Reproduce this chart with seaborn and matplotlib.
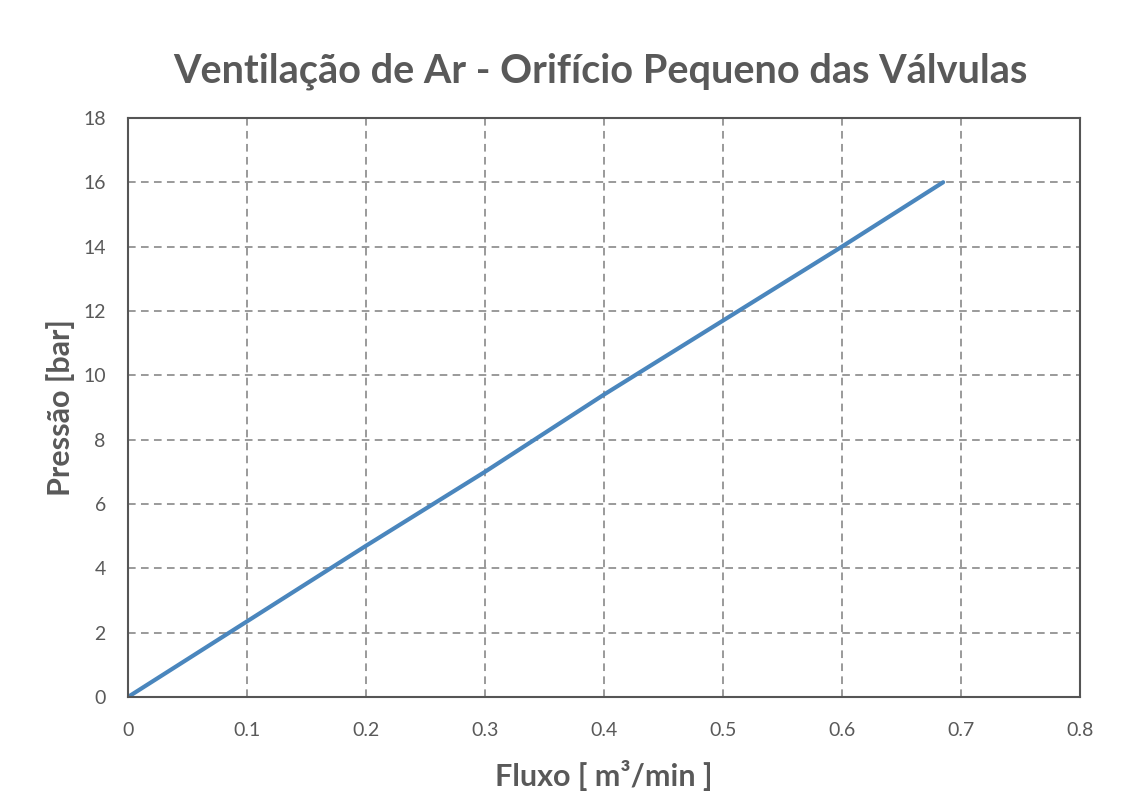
import pandas as pd
import matplotlib.pyplot as plt
import seaborn as sns

# values
fluxo = [0.0, 0.1, 0.2, 0.3, 0.4, 0.5, 0.6, 0.685]
pressao = [0.0, 2.35, 4.7, 7.0, 9.4, 11.7, 14.0, 16.0]
x_ticks = [0, 0.1, 0.2, 0.3, 0.4, 0.5, 0.6, 0.7, 0.8]
x_tick_labels = ['0', '0.1', '0.2', '0.3', '0.4', '0.5', '0.6', '0.7', '0.8']
y_ticks = [0, 2, 4, 6, 8, 10, 12, 14, 16, 18]

df = pd.DataFrame({'fluxo': fluxo, 'pressao': pressao})

sns.set_style('white')
plt.rcParams['font.family'] = ['Lato', 'DejaVu Sans']

text_color = '#595959'
fig = plt.figure(figsize=(11.23, 8.11), dpi=100)
ax = fig.add_axes([0.114, 0.1406, 0.8477, 0.714])

sns.lineplot(data=df, x='fluxo', y='pressao', ax=ax, color='#4a86bd', linewidth=3)

ax.set_xlim(0, 0.8)
ax.set_ylim(0, 18)
ax.set_xticks(x_ticks)
ax.set_xticklabels(x_tick_labels)
ax.set_yticks(y_ticks)
ax.tick_params(axis='both', labelsize=14, labelcolor=text_color, length=0)
ax.tick_params(axis='x', pad=18)
ax.tick_params(axis='y', pad=16)

ax.grid(True, linestyle=(0, (5, 3.5)), color='#7f7f7f', linewidth=1.1)
for side in ['left', 'right', 'top', 'bottom']:
    ax.spines[side].set_visible(True)
    ax.spines[side].set_color('#555555')
    ax.spines[side].set_linewidth(1.5)

ax.set_xlabel('Fluxo [ m³/min ]', fontsize=22, fontweight='bold', color=text_color, labelpad=15)
ax.set_ylabel('Pressão [bar]', fontsize=22, fontweight='bold', color=text_color, labelpad=6)
fig.suptitle('Ventilação de Ar - Orifício Pequeno das Válvulas', x=0.535, y=0.935,
             fontsize=28.5, fontweight='bold', color=text_color)

fig.savefig('out.png', dpi=100, facecolor='white')
